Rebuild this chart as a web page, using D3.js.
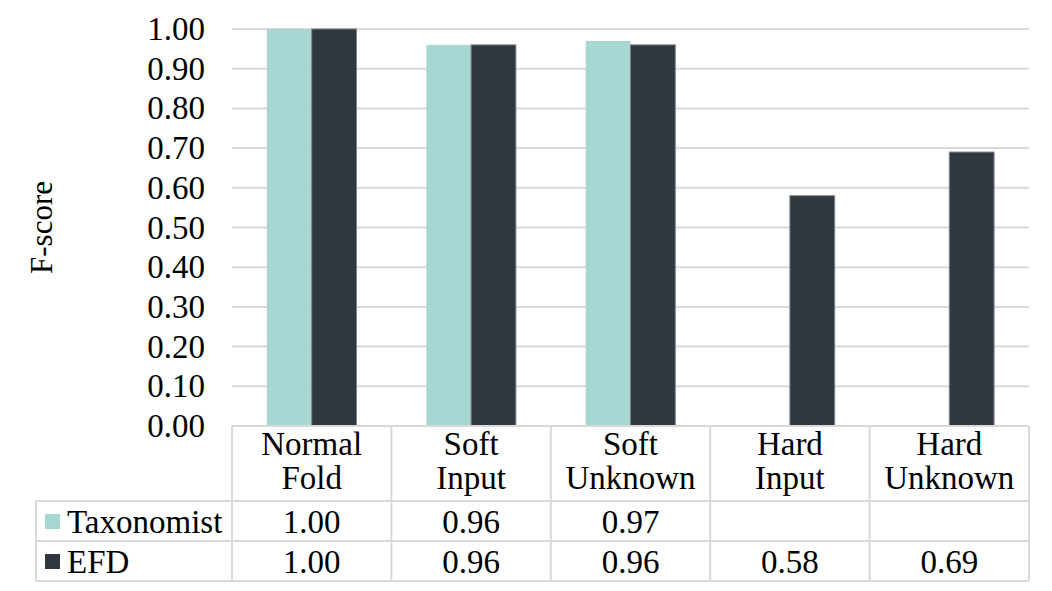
<!DOCTYPE html>
<html>
<head>
<meta charset="utf-8">
<script src="https://cdn.jsdelivr.net/npm/d3@7"></script>
<style>
	body { margin: 0; background: #fff; }
	svg { display: block; font-family: 'Liberation Serif', 'Times New Roman', serif; }
</style>
</head>
<body>
<svg width="1052" height="591"></svg>
<script>
// F-score per test set

var categories = [['Normal', 'Fold'], ['Soft', 'Input'], ['Soft', 'Unknown'], ['Hard', 'Input'], ['Hard', 'Unknown']]
var seriesNames = ['Taxonomist', 'EFD']
var taxonomist = [1.00, 0.96, 0.97, null, null]
var efd = [1.00, 0.96, 0.96, 0.58, 0.69]
var yTicks = [0, 0.1, 0.2, 0.3, 0.4, 0.5, 0.6, 0.7, 0.8, 0.9, 1.0]

var colors = ['#a6d7d3', '#30373e']
var gridColor = '#d9d9d9'
var values = [taxonomist, efd]

var svg = d3.select('svg')
var plotLeft = 232, plotRight = 1029, plotTop = 29, base = 426
var rowTop = 501, rowMid = 541, rowBot = 581, tableLeft = 36
var fs = 33

var catIdx = categories.map(function(d, i) { return i })
var x0 = d3.scaleBand().domain(catIdx).range([plotLeft, plotRight])
var x1 = d3.scaleBand().domain([0, 1]).range([0, x0.bandwidth()]).paddingOuter(0.78)
var y = d3.scaleLinear().domain([0, 1]).range([base, plotTop])

// grid
svg.append('g')
	.selectAll('line')
	.data(yTicks.slice(1))
	.enter()
	.append('line')
	.attr('x1', plotLeft).attr('x2', plotRight)
	.attr('y1', function(d) { return y(d) })
	.attr('y2', function(d) { return y(d) })
	.attr('stroke', gridColor)
	.attr('stroke-width', 2)

// y axis labels
var yAxis = d3.axisLeft(y).tickValues(yTicks).tickFormat(d3.format('.2f')).tickSize(0).tickPadding(27)
var ya = svg.append('g').attr('transform', 'translate(' + plotLeft + ',0)').call(yAxis)
ya.select('.domain').remove()
ya.selectAll('text')
	.attr('font-family', "'Liberation Serif', 'Times New Roman', serif")
	.attr('font-size', fs)
	.attr('fill', '#000')

svg.append('text')
	.attr('transform', 'translate(52,' + y(0.5) + ') rotate(-90)')
	.attr('text-anchor', 'middle')
	.attr('font-size', 31)
	.text('F-score')

// bars
values.forEach(function(vals, s) {
	svg.append('g')
		.selectAll('rect')
		.data(vals.map(function(v, i) { return { i: i, v: v } }).filter(function(d) { return d.v != null }))
		.enter()
		.append('rect')
		.attr('x', function(d) { return x0(d.i) + x1(s) })
		.attr('width', x1.bandwidth())
		.attr('y', function(d) { return y(d.v) })
		.attr('height', function(d) { return base - y(d.v) })
		.attr('fill', colors[s])
		.attr('stroke', s == 1 ? '#7d8287' : 'none')
		.attr('stroke-width', 1)
})

// data table
var t = svg.append('g').attr('stroke', gridColor).attr('stroke-width', 2)
t.append('line').attr('x1', plotLeft).attr('x2', plotRight).attr('y1', base).attr('y2', base)
;[rowTop, rowMid, rowBot].forEach(function(yy) {
	t.append('line').attr('x1', tableLeft).attr('x2', plotRight).attr('y1', yy).attr('y2', yy)
})
t.append('line').attr('x1', tableLeft).attr('x2', tableLeft).attr('y1', rowTop).attr('y2', rowBot)
catIdx.concat([categories.length]).forEach(function(i) {
	var xx = i < categories.length ? x0(i) : plotRight
	t.append('line').attr('x1', xx).attr('x2', xx).attr('y1', base).attr('y2', rowBot)
})

// header
var hdr = svg.append('g')
	.selectAll('text')
	.data(categories)
	.enter()
	.append('text')
	.attr('text-anchor', 'middle')
	.attr('font-size', fs)
	.attr('x', function(d, i) { return x0(i) + x0.bandwidth() / 2 })
hdr.append('tspan').attr('y', 455).text(function(d) { return d[0] })
hdr.append('tspan')
	.attr('x', function(d, i) { return x0(i) + x0.bandwidth() / 2 })
	.attr('y', 489).text(function(d) { return d[1] })

// rows
var rowY = [(rowTop + rowMid) / 2, (rowMid + rowBot) / 2]
values.forEach(function(vals, s) {
	svg.append('rect')
		.attr('x', 45).attr('y', rowY[s] - 7)
		.attr('width', 15).attr('height', 15)
		.attr('fill', colors[s])
	svg.append('text')
		.attr('x', 67).attr('y', rowY[s])
		.attr('dy', '0.35em')
		.attr('font-size', fs)
		.text(seriesNames[s])
	svg.append('g')
		.selectAll('text')
		.data(vals)
		.enter()
		.append('text')
		.attr('x', function(d, i) { return x0(i) + x0.bandwidth() / 2 })
		.attr('y', rowY[s])
		.attr('dy', '0.35em')
		.attr('text-anchor', 'middle')
		.attr('font-size', fs)
		.text(function(d) { return d == null ? '' : d3.format('.2f')(d) })
})
</script>
</body>
</html>
